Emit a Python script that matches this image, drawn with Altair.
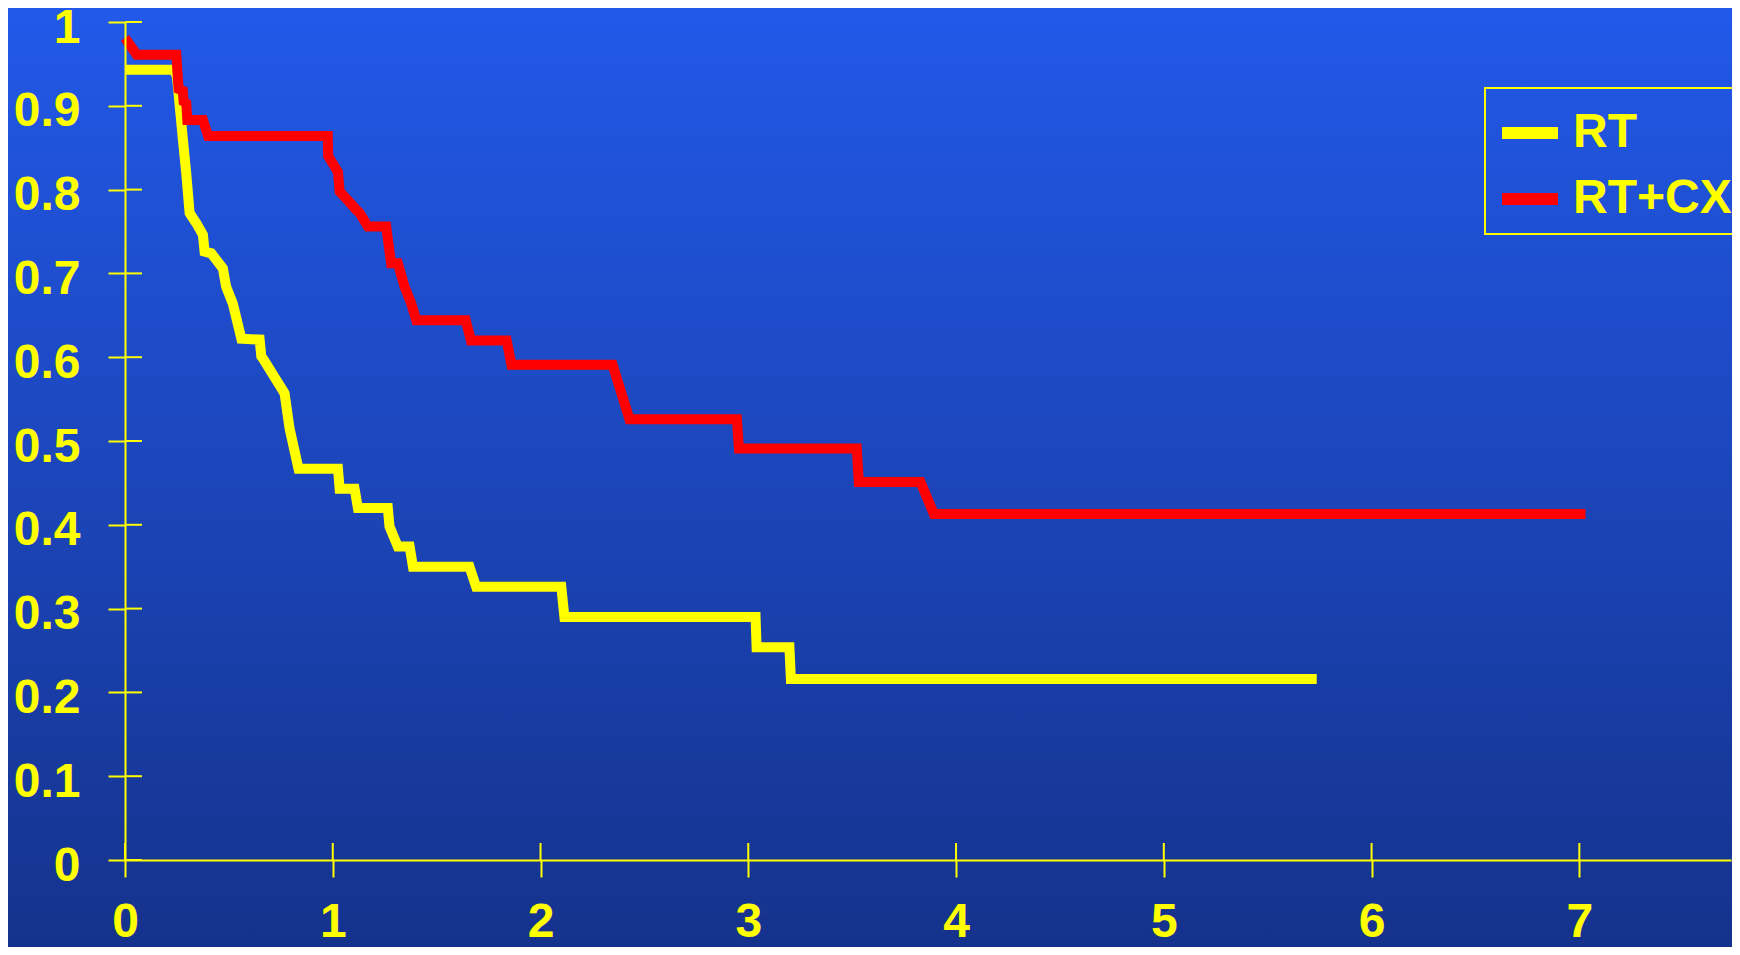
import altair as alt
import pandas as pd

# ---- data ----
series_names = ["RT", "RT+CX"]
series_colors = ["#FFFF00", "#FF0000"]

rt_t = [0, 0.235, 0.250, 0.279, 0.295, 0.311, 0.343, 0.375, 0.383, 0.415, 0.471, 0.487,
        0.519, 0.560, 0.648, 0.656, 0.665, 0.768, 0.792, 0.835, 1.025, 1.033, 1.105, 1.121,
        1.265, 1.273, 1.313, 1.370, 1.386, 1.658, 1.690, 2.100, 2.115, 3.035, 3.040, 3.198,
        3.205, 5.736]
rt_s = [0.943, 0.943, 0.935, 0.859, 0.819, 0.772, 0.760, 0.746, 0.726, 0.724, 0.706, 0.684,
        0.664, 0.622, 0.621, 0.601, 0.598, 0.557, 0.515, 0.467, 0.467, 0.443, 0.443, 0.420,
        0.420, 0.398, 0.374, 0.374, 0.350, 0.350, 0.326, 0.326, 0.290, 0.290, 0.254, 0.254,
        0.216, 0.216]

rtcx_t = [0, 0.056, 0.247, 0.258, 0.278, 0.282, 0.295, 0.300, 0.375, 0.400, 0.976, 0.978,
          1.025, 1.033, 1.113, 1.130, 1.169, 1.257, 1.281, 1.313, 1.346, 1.378, 1.402, 1.640,
          1.665, 1.837, 1.860, 2.347, 2.428, 2.945, 2.955, 3.522, 3.532, 3.829, 3.893, 7.030]
rtcx_s = [0.981, 0.961, 0.961, 0.920, 0.918, 0.905, 0.903, 0.883, 0.883, 0.864, 0.864, 0.840,
          0.821, 0.798, 0.776, 0.772, 0.756, 0.756, 0.712, 0.712, 0.684, 0.664, 0.644, 0.644,
          0.620, 0.620, 0.591, 0.591, 0.526, 0.526, 0.491, 0.491, 0.451, 0.451, 0.413, 0.413]

x_tick_values = [0, 1, 2, 3, 4, 5, 6, 7]
y_tick_values = [0, 0.1, 0.2, 0.3, 0.4, 0.5, 0.6, 0.7, 0.8, 0.9, 1.0]

rows = []
for name, ts, ss in [("RT", rt_t, rt_s), ("RT+CX", rtcx_t, rtcx_s)]:
    for i, (t, s) in enumerate(zip(ts, ss)):
        rows.append({"t": t, "s": s, "group": name, "idx": i})
df = pd.DataFrame(rows)

# ---- layout ----
W, H = 1606, 838
PAD = {"left": 117, "top": 14, "right": 1, "bottom": 87}
YEL = "#FFFF00"
FONT = "Liberation Sans"

xscale = alt.Scale(domain=[0, 7.73], nice=False, zero=False)
yscale = alt.Scale(domain=[0, 1], nice=False)

x_axis = alt.Axis(values=x_tick_values, title=None, grid=False, domainColor=YEL,
                  domainWidth=2, tickColor=YEL, tickWidth=2, tickSize=17,
                  labelColor=YEL, labelFont=FONT, labelFontWeight="bold",
                  labelFontSize=48, labelPadding=21, labelFlush=False,
                  labelOverlap=False, format="d", zindex=1)
y_axis = alt.Axis(values=y_tick_values, title=None, grid=False, domainColor=YEL,
                  domainWidth=2, tickColor=YEL, tickWidth=2, tickSize=17,
                  labelColor=YEL, labelFont=FONT, labelFontWeight="bold",
                  labelFontSize=48, labelPadding=28, labelFlush=False,
                  labelOverlap=False, format="~g", labelOffset=6, zindex=1)

bg = alt.Chart(pd.DataFrame({"a": [0]})).mark_rect(
    color=alt.LinearGradient(
        gradient="linear",
        stops=[alt.GradientStop(color="#2259E9", offset=0),
               alt.GradientStop(color="#15328C", offset=1)],
        x1=0, x2=0, y1=0, y2=1),
).encode(x=alt.value(-PAD["left"]), x2=alt.value(W + PAD["right"]),
         y=alt.value(-PAD["top"]), y2=alt.value(H + PAD["bottom"]))

lines = alt.Chart(df).mark_line(strokeWidth=10, strokeJoin="miter", strokeCap="butt").encode(
    x=alt.X("t:Q", scale=xscale, axis=x_axis),
    y=alt.Y("s:Q", scale=yscale, axis=y_axis),
    color=alt.Color("group:N",
                    scale=alt.Scale(domain=series_names, range=series_colors),
                    legend=alt.Legend(title=None, orient="none", legendX=1360, legendY=66,
                                      symbolType="stroke", symbolSize=3136,
                                      symbolStrokeWidth=12, labelFont=FONT,
                                      labelFontWeight="bold", labelFontSize=48,
                                      labelColor=YEL, labelOffset=9, labelLimit=600,
                                      padding=11, rowPadding=8, strokeColor=YEL,
                                      direction="vertical")),
    order=alt.Order("idx:Q"),
)

ytick_in = alt.Chart(pd.DataFrame({"s": y_tick_values})).mark_rule(
    color=YEL, strokeWidth=2).encode(
    y=alt.Y("s:Q", scale=yscale, axis=y_axis), x=alt.value(0), x2=alt.value(17))

xtick_in = alt.Chart(pd.DataFrame({"t": x_tick_values})).mark_rule(
    color=YEL, strokeWidth=2).encode(
    x=alt.X("t:Q", scale=xscale, axis=x_axis), y=alt.value(H - 17), y2=alt.value(H))

chart = alt.layer(bg, lines, ytick_in, xtick_in).properties(
    width=W, height=H, padding=PAD,
    autosize=alt.AutoSizeParams(type="none"),
    background="#15328C",
).configure_view(stroke=None).configure_legend(strokeWidth=2)

chart.save("out.html", embed_options={"renderer": "svg", "actions": False})
